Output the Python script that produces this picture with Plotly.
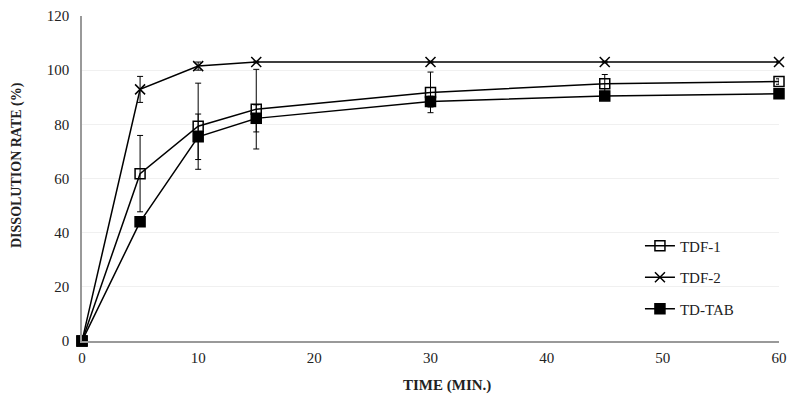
import plotly.graph_objects as go

time_min = [0, 5, 10, 15, 30, 45, 60]

tdf1 = [0, 61.8, 79.3, 85.6, 91.8, 95.0, 95.8]
tdf1_err = [0, 14.1, 15.9, 14.7, 7.5, 3.4, 1.0]

tdf2 = [0, 92.9, 101.5, 103.0, 103.0, 103.0, 103.0]
tdf2_err = [0, 4.8, 1.5, 0.3, 0.3, 0.3, 0.3]

tdtab = [0, 44.0, 75.4, 82.2, 88.4, 90.5, 91.3]
tdtab_err = [0, 1.0, 8.4, 5.0, 2.0, 1.0, 0.8]

series_names = ["TDF-1", "TDF-2", "TD-TAB"]
x_ticks = [0, 10, 20, 30, 40, 50, 60]
y_ticks = [0, 20, 40, 60, 80, 100, 120]

FONT = "Liberation Serif"

fig = go.Figure()

def add(name, y, err, symbol, size, group):
    fig.add_trace(go.Scatter(
        x=time_min, y=y, name=name, mode="lines+markers",
        legendgroup=group, cliponaxis=False,
        line=dict(color="black", width=1.5),
        marker=dict(symbol=symbol, size=size, color="black",
                    line=dict(color="black", width=1.5)),
        error_y=dict(type="data", array=err, visible=True,
                     color="black", thickness=1, width=3),
    ))

add(series_names[0], tdf1, tdf1_err, "square-open", 10, "a")
add(series_names[1], tdf2, tdf2_err, "x-thin-open", 10, "b")
add(series_names[2], tdtab, tdtab_err, "square", 10, "c")

# page body has an 8px margin: shift everything by -8px
OFF = 8
W, H = 781, 389
L, R, T, B = 82 - OFF, 10, 16 - OFF, 56
pw = W - L - R
ph = H - T - B

def px_x(x):
    return (x - OFF - L) / pw

def px_y(y):
    return (H - B - (y - OFF)) / ph

fig.update_layout(
    width=W, height=H,
    margin=dict(l=L, r=R, t=T, b=B, autoexpand=False),
    paper_bgcolor="white", plot_bgcolor="white",
    font=dict(family=FONT, size=15, color="#222"),
    showlegend=True,
    legend=dict(x=0.8005, y=0.343, xanchor="left", yanchor="top",
                bgcolor="rgba(0,0,0,0)", traceorder="grouped",
                tracegroupgap=9, font=dict(family=FONT, size=15, color="#222"),
                itemwidth=30),
    xaxis=dict(range=[0, 60], tickvals=x_ticks, showgrid=False,
               showline=True, linecolor="#999", linewidth=1.5,
               ticks="", zeroline=False, ticklabelstandoff=2, automargin=False,
               tickfont=dict(family=FONT, size=15)),
    yaxis=dict(range=[0, 120], tickvals=y_ticks, showgrid=True,
               gridcolor="#f0f0f0", showline=True, linecolor="#999",
               linewidth=1.5, ticks="", zeroline=False, ticklabelstandoff=8,
               automargin=False, tickfont=dict(family=FONT, size=15)),
    annotations=[
        dict(text="<b>TIME (MIN.)</b>", x=px_x(447), y=px_y(385),
             xref="paper", yref="paper", xanchor="center", yanchor="middle",
             showarrow=False, font=dict(family=FONT, size=15, color="#222")),
        dict(text="<b>DISSOLUTION RATE (%)</b>", textangle=-90,
             x=px_x(17), y=px_y(165), xref="paper", yref="paper",
             xanchor="center", yanchor="middle",
             showarrow=False, font=dict(family=FONT, size=14, color="#222")),
    ],
)

fig.write_html("out.html")
